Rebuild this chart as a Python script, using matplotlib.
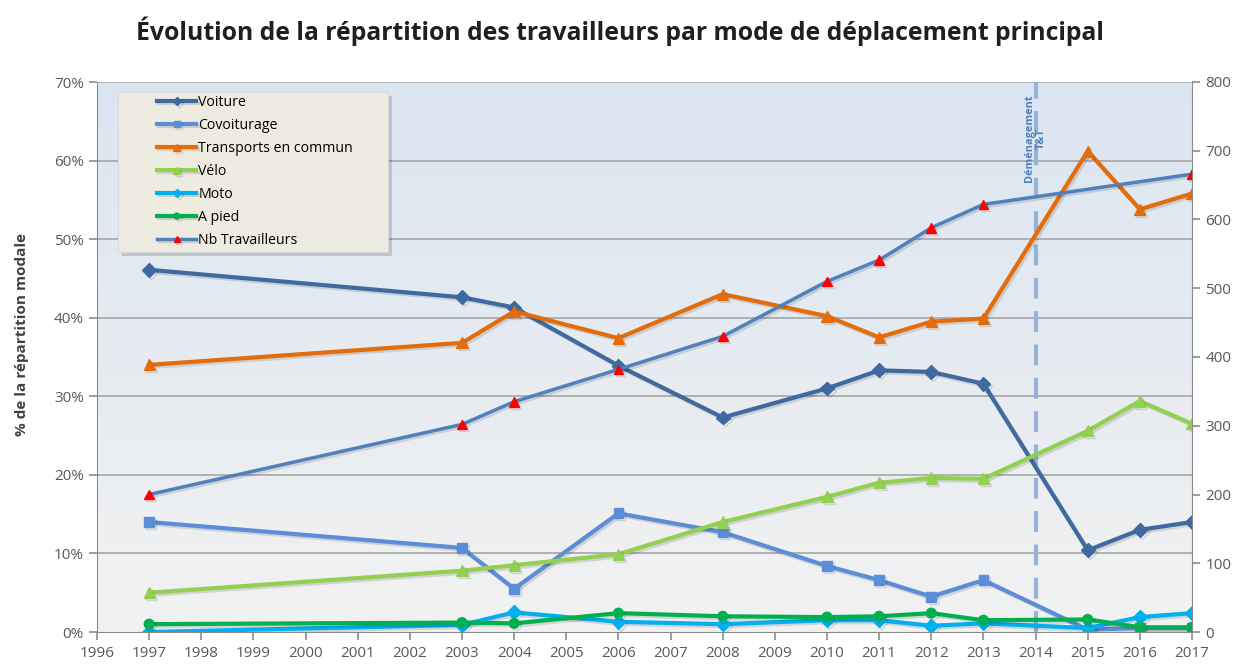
import numpy as np
import matplotlib
matplotlib.use("Agg")
import matplotlib.pyplot as plt
import matplotlib.patheffects as pe
from matplotlib.patches import Rectangle
from matplotlib.ticker import FuncFormatter, MultipleLocator

plt.rcParams['font.family'] = ['Open Sans', 'DejaVu Sans']

annees = [1997, 2003, 2004, 2006, 2008, 2010, 2011, 2012, 2013, 2015, 2016, 2017]

voiture = [46.1, 42.6, 41.3, 33.9, 27.3, 31.0, 33.3, 33.1, 31.6, 10.4, 13.0, 14.0]
covoiturage = [14.0, 10.7, 5.5, 15.1, 12.7, 8.4, 6.6, 4.5, 6.6, 0.3, 0.5, 0.5]
transports = [34.0, 36.8, 40.8, 37.4, 43.0, 40.2, 37.5, 39.5, 39.9, 61.2, 53.8, 55.8]
velo = [5.0, 7.8, 8.5, 9.9, 14.0, 17.2, 19.0, 19.6, 19.5, 25.6, 29.4, 26.5]
moto = [0.0, 0.9, 2.5, 1.3, 1.0, 1.5, 1.5, 0.8, 1.1, 0.5, 1.9, 2.4]
a_pied = [1.0, 1.2, 1.1, 2.4, 2.0, 1.9, 2.0, 2.4, 1.5, 1.6, 0.6, 0.6]

annees_nb = [1997, 2003, 2004, 2006, 2008, 2010, 2011, 2012, 2013, 2017]
nb_travailleurs = [200, 302, 335, 382, 430, 510, 541, 588, 622, 666]

W, H = 1240, 664
fig = plt.figure(figsize=(12.4, 6.64), dpi=100)
ax = fig.add_axes([97 / W, 32 / H, 1095 / W, 550 / H])
ax2 = ax.twinx()

# fond degrade bleu -> gris
grad = np.linspace(0, 1, 256).reshape(-1, 1)
cmap = matplotlib.colors.LinearSegmentedColormap.from_list('fond', ['#f2f2f2', '#dbe5f1'])
ax.imshow(grad, aspect='auto', cmap=cmap, origin='lower',
          extent=[1996, 2017, 0, 70], zorder=0)

for y in range(10, 71, 10):
    ax.axhline(y, color='#a6a6a6', lw=1.2, zorder=1)

ax.axvline(2014, color='#95b3d7', lw=3, ls=(0, (5, 3)), zorder=2)
ax.text(2014, 68.4, 'Déménagement\nT&T', rotation=90, ha='center', va='top',
        fontsize=7.8, color='#4f81bd', fontweight='bold', linespacing=1.1, zorder=3)

ombre = [pe.SimpleLineShadow(offset=(1.5, -1.5), alpha=0.12), pe.Normal()]
lw = 3
ms = 7
l1, = ax.plot(annees, voiture, color='#3e6aa0', lw=lw, marker='D', ms=ms, label='Voiture', zorder=5)
l2, = ax.plot(annees, covoiturage, color='#5b8ed6', lw=lw, marker='s', ms=ms, label='Covoiturage', zorder=5)
l3, = ax.plot(annees, transports, color='#e46c0a', lw=lw, marker='^', ms=ms + 1, label='Transports en commun', zorder=5)
l4, = ax.plot(annees, velo, color='#92d050', lw=lw, marker='^', ms=ms + 1, label='Vélo', zorder=5)
l5, = ax.plot(annees, moto, color='#00b0f0', lw=lw, marker='D', ms=ms, label='Moto', zorder=5)
l6, = ax.plot(annees, a_pied, color='#00b050', lw=lw, marker='o', ms=ms, label='A pied', zorder=5)
l7, = ax2.plot(annees_nb, nb_travailleurs, color='#4f81bd', lw=2.5, marker='^', ms=7,
               mfc='#ff0000', mec='#ff0000', label='Nb Travailleurs', zorder=5)
for l in (l1, l2, l3, l4, l5, l6, l7):
    l.set_path_effects(ombre)

ax.set_xlim(1996, 2017)
ax.set_ylim(0, 70)
ax2.set_ylim(0, 800)
ax.set_xticks(range(1996, 2018))
ax.yaxis.set_major_locator(MultipleLocator(10))
ax.yaxis.set_major_formatter(FuncFormatter(lambda v, p: '%d%%' % v))
ax2.yaxis.set_major_locator(MultipleLocator(100))

for a in (ax, ax2):
    for s in a.spines.values():
        s.set_visible(False)
    a.tick_params(colors='#8c8c8c', labelcolor='#595959', labelsize=11, length=6, width=1.2)
ax.spines['left'].set_visible(True)
ax.spines['left'].set_color('#8c8c8c')
ax.spines['bottom'].set_visible(True)
ax.spines['bottom'].set_color('#8c8c8c')
ax2.spines['right'].set_visible(True)
ax2.spines['right'].set_color('#8c8c8c')
ax.tick_params(axis='x', pad=4)

ax.set_ylabel('% de la répartition modale', fontsize=11, fontweight='bold', color='#404040')
ax.yaxis.set_label_coords(-0.062, 0.54)

fig.suptitle('Évolution de la répartition des travailleurs par mode de déplacement principal',
             x=0.5, y=0.975, fontsize=17.8, fontweight='bold', color='#1f1f1f')

# cadre de legende facon Excel
x0, y0, x1, y1 = 118, 92, 388, 252
fig.patches.append(Rectangle(((x0 + 4) / W, 1 - (y1 + 4) / H), (x1 - x0) / W, (y1 - y0) / H,
                             transform=fig.transFigure, facecolor='#000000', alpha=0.15,
                             edgecolor='none', zorder=8))
fig.patches.append(Rectangle((x0 / W, 1 - y1 / H), (x1 - x0) / W, (y1 - y0) / H,
                             transform=fig.transFigure, facecolor='#eeece1',
                             edgecolor='#d9d9d9', lw=0.8, zorder=9))

leg = fig.legend(handles=[l1, l2, l3, l4, l5, l6, l7], loc='upper left',
                 bbox_to_anchor=(146 / W, 1 - 84 / H), frameon=False,
                 fontsize=10.2, handlelength=2.75, labelspacing=0.56, borderpad=0.3,
                 markerscale=0.6, handletextpad=0.15)
leg.set_zorder(10)

fig.savefig('out.png', dpi=100)
